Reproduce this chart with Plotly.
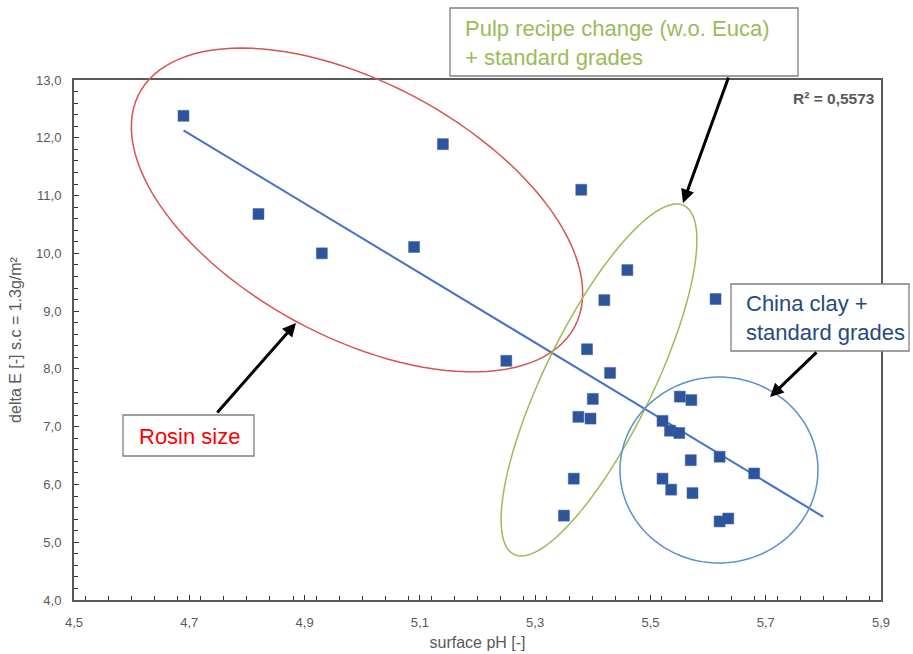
import numpy as np
import plotly.graph_objects as go

# ---- data ----
surface_ph = [4.69, 4.82, 4.93, 5.09, 5.14, 5.25, 5.38, 5.46, 5.42, 5.39,
              5.43, 5.40, 5.375, 5.396, 5.367, 5.35, 5.613, 5.551, 5.571, 5.521,
              5.534, 5.550, 5.570, 5.620, 5.680, 5.521, 5.536, 5.573, 5.620, 5.635]
delta_e = [12.38, 10.68, 10.00, 10.11, 11.89, 8.14, 11.10, 9.71, 9.19, 8.34,
           7.93, 7.48, 7.17, 7.14, 6.10, 5.46, 9.21, 7.52, 7.46, 7.10,
           6.93, 6.89, 6.42, 6.48, 6.19, 6.10, 5.91, 5.85, 5.36, 5.41]
trend_x = [4.69, 5.80]
trend_y = [12.13, 5.44]
r2_label = "R² = 0,5573"

x_range = [4.5, 5.9]
y_range = [4.0, 13.0]

# ---- layout geometry (pixels) ----
W, H = 913, 654
L, R, T, B = 74, 32, 80, 54
PW, PH = W - L - R, H - T - B


def px(xp):
    return (xp - L) / PW


def py(yp):
    return (T + PH - yp) / PH


def ellipse_path(cx, cy, a, b, theta_deg, n=120):
    th = np.radians(theta_deg)
    t = np.linspace(0, 2 * np.pi, n)
    xs = cx + a * np.cos(t) * np.cos(th) - b * np.sin(t) * np.sin(th)
    ys = cy + a * np.cos(t) * np.sin(th) + b * np.sin(t) * np.cos(th)
    pts = [f"{px(x):.5f},{py(y):.5f}" for x, y in zip(xs, ys)]
    return "M" + " L".join(pts) + " Z"


fig = go.Figure()

fig.add_trace(go.Scatter(
    x=trend_x, y=trend_y, mode="lines",
    line=dict(color="#4472C4", width=2), showlegend=False, hoverinfo="skip"))

fig.add_trace(go.Scatter(
    x=surface_ph, y=delta_e, mode="markers",
    marker=dict(symbol="square", size=11, color="#2E559B",
                line=dict(color="#3A62A8", width=0.5)),
    showlegend=False))

shapes = []
# ellipses
shapes.append(dict(type="path", xref="paper", yref="paper",
                   path=ellipse_path(357, 210, 247, 127, 28.3),
                   line=dict(color="#D9534F", width=1.5), layer="above"))
shapes.append(dict(type="path", xref="paper", yref="paper",
                   path=ellipse_path(599, 380, 194, 54, -64.0),
                   line=dict(color="#9BBB59", width=1.5), layer="above"))
shapes.append(dict(type="path", xref="paper", yref="paper",
                   path=ellipse_path(719, 470, 99, 93, 0),
                   line=dict(color="#5B8FD0", width=1.5), layer="above"))
# text boxes
for (x0, y0, x1, y1) in [(123, 415, 254, 456), (450, 8, 798, 76), (731, 284, 909, 351)]:
    shapes.append(dict(type="rect", xref="paper", yref="paper",
                       x0=px(x0), x1=px(x1), y0=py(y1), y1=py(y0),
                       line=dict(color="#7F7F7F", width=1.3),
                       fillcolor="white", layer="above"))

annotations = []
font_main = "Liberation Sans, Arial, sans-serif"
annotations.append(dict(xref="paper", yref="paper", x=px(189), y=py(436),
                        text="Rosin size", showarrow=False,
                        font=dict(family=font_main, size=22, color="#FF0000"),
                        xanchor="center", yanchor="middle"))
annotations.append(dict(xref="paper", yref="paper", x=px(463), y=py(43),
                        text="Pulp recipe change (w.o. Euca)<br>+ standard grades",
                        showarrow=False, align="left",
                        font=dict(family=font_main, size=22, color="#9BBB59"),
                        xanchor="left", yanchor="middle"))
annotations.append(dict(xref="paper", yref="paper", x=px(744), y=py(318),
                        text="China clay +<br>standard grades",
                        showarrow=False, align="left",
                        font=dict(family=font_main, size=22, color="#254A80"),
                        xanchor="left", yanchor="middle"))
# arrows (tip, tail offset in pixels)
for (tipx, tipy, tailx, taily) in [(296, 323, 216, 414), (683, 203, 729, 76), (770, 397, 818, 351)]:
    annotations.append(dict(xref="paper", yref="paper", x=px(tipx), y=py(tipy),
                            ax=tailx - tipx, ay=taily - tipy, text="",
                            showarrow=True, arrowhead=2, arrowsize=0.9,
                            arrowwidth=3, arrowcolor="black", standoff=0))
# R^2 label
annotations.append(dict(xref="paper", yref="paper", x=px(877), y=py(99),
                        text="<b>" + r2_label + "</b>", showarrow=False,
                        font=dict(family="Liberation Sans, Arial, sans-serif", size=15.5, color="#595959"),
                        xanchor="right", yanchor="middle"))

axis_font = dict(family="Liberation Sans, Arial, sans-serif", size=13, color="#595959")
title_font = dict(family="Liberation Sans, Arial, sans-serif", size=16, color="#595959")

fig.update_layout(
    width=W, height=H,
    margin=dict(l=L, r=R, t=T, b=B, pad=0, autoexpand=False),
    paper_bgcolor="white", plot_bgcolor="white",
    separators=", ",
    shapes=shapes, annotations=annotations,
    xaxis=dict(range=x_range, tick0=4.5, dtick=0.2, tickformat=".1f",
               showgrid=False, zeroline=False, automargin=False,
               showline=True, linecolor="#595959", linewidth=2, mirror=True,
               ticks="inside", ticklen=5, tickwidth=1.3, tickcolor="#333333",
               minor=dict(dtick=0.04, ticks="inside", ticklen=4, tickwidth=1, tickcolor="#333333"),
               tickfont=axis_font, ticklabelstandoff=9,
               title=dict(text="surface pH [-]", font=title_font, standoff=8)),
    yaxis=dict(range=y_range, tick0=4, dtick=1, tickformat=".1f",
               showgrid=False, zeroline=False, automargin=False,
               showline=True, linecolor="#595959", linewidth=2, mirror=True,
               ticks="inside", ticklen=5, tickwidth=1.3, tickcolor="#333333",
               minor=dict(dtick=0.2, ticks="inside", ticklen=4, tickwidth=1, tickcolor="#333333"),
               tickfont=axis_font, ticklabelstandoff=8,
               title=dict(text="delta E [-] s.c = 1.3g/m²", font=title_font, standoff=10)),
)

fig.write_html("out.html")
